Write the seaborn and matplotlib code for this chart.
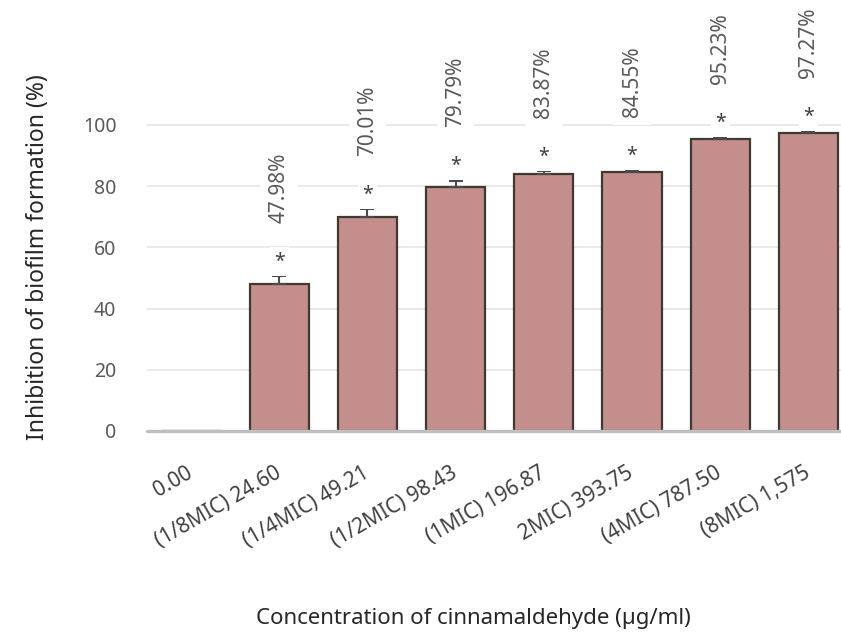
import matplotlib
matplotlib.use("Agg")
import matplotlib.pyplot as plt
import seaborn as sns
import pandas as pd

categories = ["0.00", "(1/8MIC) 24.60", "(1/4MIC) 49.21", "(1/2MIC) 98.43",
              "(1MIC) 196.87", "2MIC) 393.75", "(4MIC) 787.50", "(8MIC) 1,575"]
values = [0.0, 47.98, 70.01, 79.79, 83.87, 84.55, 95.23, 97.27]
errors = [0.0, 2.6, 2.4, 2.0, 1.0, 0.6, 0.6, 0.6]
value_labels = ["", "47.98%", "70.01%", "79.79%", "83.87%", "84.55%", "95.23%", "97.27%"]
significant = [False, True, True, True, True, True, True, True]

sns.set_theme(style="white")
plt.rcParams['font.family'] = ['Noto Sans', 'DejaVu Sans']

df = pd.DataFrame({"cat": categories, "val": values})

fig = plt.figure(figsize=(8.41, 6.34), dpi=100)
ax = fig.add_axes([0.1748, 0.3202, 0.8252, 0.507])

sns.barplot(data=df, x="cat", y="val", ax=ax, color="#c48e8d", saturation=1,
            width=0.67, edgecolor="#3f3a2e", linewidth=1.6, errorbar=None, zorder=3)

xs = list(range(len(categories)))
pos = [(x, v, e) for x, v, e in zip(xs, values, errors) if v > 0]
ax.errorbar([p[0] for p in pos], [p[1] for p in pos],
            yerr=[[0] * len(pos), [p[2] for p in pos]],
            fmt="none", ecolor="#4a4a4a", elinewidth=1.5, capsize=5, capthick=1.5, zorder=4)

for x, v, e, lab, sig in zip(xs, values, errors, value_labels, significant):
    if sig:
        ax.text(x, v + e + 4.8, "*", ha="center", va="center", fontsize=14,
                color="#404040", zorder=5,
                bbox=dict(facecolor="white", edgecolor="none", pad=3))
    if lab:
        ax.text(x, v + e + 17.5, lab, ha="center", va="bottom", rotation=90,
                fontsize=15, color="#595959", zorder=5, clip_on=False,
                bbox=dict(facecolor="white", edgecolor="none", pad=6))

ax.set_xlim(-0.5, 7.37)
ax.set_ylim(0, 105)
ax.set_yticks([0, 20, 40, 60, 80, 100])
ax.yaxis.grid(True, color="#e8e8e8", linewidth=1.3, zorder=0)
ax.set_axisbelow(True)
ax.axhline(0, color="#bfbfbf", linewidth=2.4, zorder=6, clip_on=False)
for s in ax.spines.values():
    s.set_visible(False)

ax.tick_params(axis="y", length=0, pad=22, labelsize=14, labelcolor="#595959")
ax.tick_params(axis="x", length=0, pad=29, labelsize=15, labelcolor="#404040")
plt.setp(ax.get_xticklabels(), rotation=30, ha="right", va="center", rotation_mode="anchor")

ax.set_xlabel("Concentration of cinnamaldehyde (µg/ml)", fontsize=16, color="#262626")
ax.set_ylabel("Inhibition of biofilm formation (%)", fontsize=16.5, color="#262626")
ax.xaxis.set_label_coords(0.47, -0.55)
ax.yaxis.set_label_coords(-0.14, 0.54)

fig.savefig("out.png", dpi=100)
